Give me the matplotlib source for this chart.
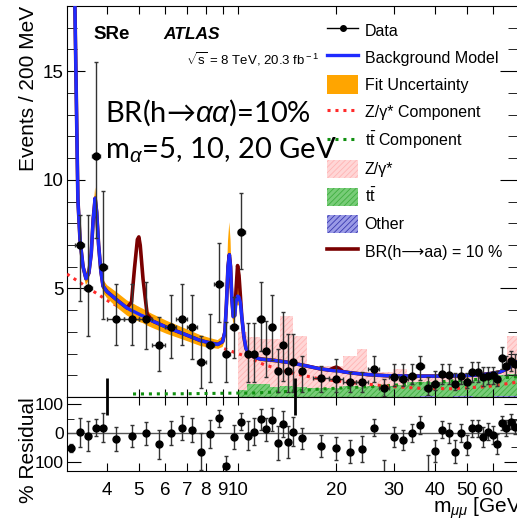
import matplotlib
matplotlib.use('Agg')
import numpy as np
import matplotlib.pyplot as plt
from matplotlib.lines import Line2D
from matplotlib.patches import Patch

plt.rcParams['font.family'] = ['Liberation Sans', 'DejaVu Sans']
plt.rcParams['mathtext.fontset'] = 'custom'
plt.rcParams['mathtext.rm'] = 'Liberation Sans'
plt.rcParams['mathtext.it'] = 'Liberation Sans:italic'
plt.rcParams['mathtext.bf'] = 'Liberation Sans:bold'
plt.rcParams['hatch.linewidth'] = 0.6

# ---- data points (m_mumu in GeV, events / 200 MeV) ----
data_x = [3.3, 3.5, 3.7, 3.9,
          4.25, 4.75, 5.25, 5.75, 6.25, 6.75, 7.25, 7.75, 8.25, 8.75, 9.25, 9.75,
          10.25, 10.75, 11.25, 11.75, 12.25, 12.75, 13.25, 13.75, 14.25, 14.75, 15.75,
          18, 20, 22, 24, 26, 28, 30, 32, 34, 36, 38, 40, 42, 44, 46, 48, 50,
          52, 54, 56, 58, 60, 62, 64, 66, 68, 70]
data_w = [0.2, 0.2, 0.2, 0.2,
          0.5, 0.5, 0.5, 0.5, 0.5, 0.5, 0.5, 0.5, 0.5, 0.5, 0.5, 0.5,
          0.5, 0.5, 0.5, 0.5, 0.5, 0.5, 0.5, 0.5, 0.5, 0.5, 0.5,
          2, 2, 2, 2, 2, 2, 2, 2, 2, 2, 2, 2, 2, 2, 2, 2, 2,
          2, 2, 2, 2, 2, 2, 2, 2, 2, 2]
data_y = [7.0, 5.0, 11.1, 6.0,
          3.6, 3.6, 3.6, 2.4, 3.2, 3.6, 3.2, 1.6, 2.4, 5.2, 2.0, 3.2,
          7.6, 2.0, 2.0, 3.6, 2.1, 3.2, 1.2, 2.4, 1.2, 1.6, 1.2,
          0.87, 0.83, 0.69, 0.69, 1.29, 0.41, 0.92, 0.83, 0.97, 1.43, 0.41, 0.60, 1.06,
          1.01, 0.60, 0.97, 0.69, 1.15, 1.15, 0.90, 0.97, 1.01, 0.83, 1.79, 1.43, 1.66, 1.5]
data_lo = [4.4, 2.8, 7.3, 3.6,
           2.4, 2.4, 2.2, 1.2, 1.8, 2.4, 1.75, 0.4, 0.7, 3.45, 0.7, 1.8,
           5.9, 0.7, 0.7, 2.1, 0.9, 1.7, 0.23, 0.74, 0.23, 0.23, 0.23,
           0.23, 0.23, 0.23, 0.23, 0.69, 0.05, 0.5, 0.5, 0.6, 0.8, 0.1, 0.3, 0.6,
           0.6, 0.3, 0.6, 0.4, 0.7, 0.7, 0.5, 0.6, 0.6, 0.5, 1.3, 1.0, 1.2, 1.0]
data_hi = [8.4, 8.4, 15.4, 9.5,
           5.2, 5.2, 5.3, 3.7, 4.7, 5.2, 4.7, 2.8, 3.8, 7.1, 3.45, 4.6,
           9.4, 3.4, 3.4, 5.3, 3.5, 4.7, 2.2, 3.9, 2.9, 2.9, 1.9,
           1.43, 1.75, 1.15, 1.15, 1.89, 0.83, 1.5, 1.5, 1.5, 1.9, 0.9, 1.2, 1.5,
           1.5, 1.1, 1.4, 1.1, 1.6, 1.6, 1.4, 1.4, 1.4, 1.2, 2.3, 1.9, 2.1, 2.0]

# ---- residual panel (%), first bin only visible here ----
res_x = [3.1] + data_x
res_y = [-52,
         2, -10, 19, 19,
         -22, -10, -1, -40, 1, 17, 11, -65, -3, 51, -116, -15,
         40, -9, 5, 48, 13, 46, -35, 32, -31, 5, -19,
         -46, -54, -66, -57, 19, -160, -13, -25, 1, 28, -160, -63, 11,
         1, -66, 1, -42, 16, 16, -15, 5, -7, -39, 34, 16, 40, 22]
res_err = [15,
           50, 52, 30, 50,
           42, 39, 40, 52, 42, 43, 43, 64, 50, 30, 35, 42,
           29, 50, 48, 36, 40, 40, 60, 45, 55, 50, 37,
           39, 40, 40, 45, 30, 65, 35, 35, 32, 30, 83, 40, 30,
           35, 40, 32, 35, 30, 30, 35, 30, 30, 35, 25, 28, 25, 25]
# residual bars that run off the top of the panel
off_x = [4.0, 15.0]
off_lo = [63, 63]
off_hi = [193, 193]

# ---- fitted model curves ----
curve_x = [3.12, 3.19, 3.26, 3.31, 3.38, 3.45, 3.52, 3.58, 3.63, 3.68, 3.72, 3.77,
           3.83, 3.89, 4.0, 4.3, 4.6, 4.75, 4.85, 4.95, 5.0, 5.05, 5.15, 5.3, 5.5,
           6.1, 7.0, 7.7, 8.3, 8.7, 9.0, 9.15, 9.25, 9.35, 9.44, 9.52, 9.6, 9.7,
           9.8, 9.9, 10.0, 10.1, 10.2, 10.3, 10.45, 10.6, 10.8, 11.2, 11.7, 13,
           14.2, 16, 17.8, 19, 19.6, 20, 20.4, 21, 22.5, 25, 28.5, 32, 36, 40,
           45, 52, 58, 63, 67, 71.6]
bkg_y = [30, 18.3, 9.1, 7.2, 6.0, 5.45, 5.7, 6.6, 8.2, 9.15, 8.5, 7.0,
         5.8, 5.1, 4.85, 4.45, 4.1, 3.98, 3.92, 3.85, 3.82, 3.78, 3.73, 3.62, 3.5,
         3.2, 2.85, 2.6, 2.48, 2.42, 2.55, 3.0, 4.3, 6.0, 6.55, 6.0, 4.6, 3.7,
         3.75, 4.4, 4.65, 4.6, 4.35, 3.7, 2.8, 2.25, 2.0, 1.85, 1.75, 1.68,
         1.6, 1.45, 1.3, 1.24, 1.21, 1.2, 1.19, 1.16, 1.1, 1.03, 0.98, 0.97, 0.96, 0.96,
         0.97, 1.0, 1.06, 1.15, 1.32, 1.65]
fit_unc = [0.5, 0.5, 0.4, 0.35, 0.3, 0.3, 0.3, 0.35, 0.4, 0.5, 0.45, 0.35,
           0.3, 0.3, 0.3, 0.35, 0.35, 0.35, 0.35, 0.34, 0.34, 0.34, 0.33, 0.33, 0.32,
           0.3, 0.27, 0.25, 0.22, 0.2, 0.25, 0.4, 0.8, 1.2, 1.5, 1.2, 0.7, 0.3,
           0.3, 0.35, 0.4, 0.4, 0.35, 0.3, 0.2, 0.15, 0.12, 0.1, 0.1, 0.09,
           0.08, 0.08, 0.08, 0.08, 0.08, 0.08, 0.08, 0.08, 0.08, 0.08, 0.08, 0.08, 0.08, 0.08,
           0.08, 0.08, 0.08, 0.09, 0.1, 0.12]
signal_y = [0, 0, 0, 0, 0, 0, 0, 0, 0, 0, 0, 0,
            0, 0, 0, 0, 0, 0.4, 2.0, 3.4, 3.55, 3.2, 1.7, 0.2, 0,
            0, 0, 0, 0, 0, 0, 0, 0, 0, 0, 0, 0, 0,
            0, 0.6, 1.4, 1.0, 0.3, 0, 0, 0, 0, 0, 0, 0,
            0, 0, 0, 0, 0.12, 0.18, 0.12, 0, 0, 0, 0, 0, 0, 0,
            0, 0, 0, 0, 0, 0]

zg_x = [3.02, 4.08, 5.0, 6.1, 7.7, 9.0, 10.7, 12.0, 14.2, 17.8, 22.5, 28.6, 36, 45, 57.6, 69, 71.6]
zg_y = [5.66, 4.37, 3.7, 3.15, 2.6, 2.25, 1.85, 1.5, 1.15, 0.83, 0.66, 0.5, 0.4, 0.38, 0.48, 0.65, 0.7]
tt_x = [4.8, 7.0, 10.0, 11.0, 14.0, 18.0, 28.0, 45.0, 69.0, 71.6]
tt_y = [0.14, 0.15, 0.18, 0.18, 0.25, 0.37, 0.51, 0.74, 0.92, 0.95]

# ---- stacked MC histograms ----
mc_edges = [10.0, 10.7, 11.7, 12.6, 13.5, 14.8, 16.3, 21.0, 23.1, 24.8, 29.8,
            32.9, 36.0, 40.4, 45.4, 52.2, 60.1, 66.3, 71.6]
other_h = [0.0, 0.0, 0.0, 0.0, 0.0, 0.02, 0.0, 0.0, 0.0, 0.02, 0.0,
           0.0, 0.03, 0.0, 0.03, 0.0, 0.04, 0.05]
ttbar_h = [0.3, 0.6, 0.6, 0.45, 0.5, 0.45, 0.4, 0.5, 0.45, 0.5, 0.55,
           0.7, 0.65, 0.7, 0.7, 0.8, 0.95, 1.0]
zgam_h = [2.7, 2.16, 2.07, 2.22, 3.22, 2.33, 1.03, 1.39, 1.75, 0.63, 0.74,
          0.27, 0.24, 0.36, 0.24, 0.26, 0.16, 1.75]

BLUE = '#1f2bff'
ORANGE = '#ffa500'
BROWN = '#7a0000'
PINK_FC, PINK_EC = '#ffd6d6', '#ffb4b4'
GREEN_FC, GREEN_EC = '#78cc78', '#3fae3f'
OTH_FC, OTH_EC = '#9a9ae6', '#3a3ab0'

W, H = 517, 520
fig = plt.figure(figsize=(W / 100, H / 100), dpi=100)
ax = fig.add_axes([67 / W, 1 - 397 / H, 451 / W, 391 / H])
axr = fig.add_axes([67 / W, 1 - 471 / H, 451 / W, 74 / H], sharex=ax)

# stacked histograms
left = np.array(mc_edges[:-1])
width = np.diff(mc_edges)
oth = np.array(other_h)
ttb = np.array(ttbar_h)
ax.bar(left, oth, width, align='edge', color=OTH_FC, edgecolor=OTH_EC, hatch='//////', lw=0)
ax.bar(left, ttb, width, bottom=oth, align='edge', color=GREEN_FC, edgecolor=GREEN_EC, hatch='//////', lw=0)
ax.bar(left, zgam_h, width, bottom=oth + ttb, align='edge', color=PINK_FC, edgecolor=PINK_EC, hatch='//////', lw=0)

# model components
bkg = np.array(bkg_y)
unc = np.array(fit_unc)
ax.plot(tt_x, tt_y, color='#109010', lw=2.2, ls=(0, (1, 1.6)), zorder=3)
ax.plot(zg_x, zg_y, color='#ff2a2a', lw=2.2, ls=(0, (1, 1.6)), zorder=3)
ax.fill_between(curve_x, bkg - unc, bkg + unc, color=ORANGE, lw=0, zorder=4)
ax.plot(curve_x, bkg + np.array(signal_y), color=BROWN, lw=2.6, zorder=5)
ax.plot(curve_x, bkg, color=BLUE, lw=2.4, zorder=6)

# data
dy = np.array(data_y)
ax.errorbar(data_x, dy, xerr=np.array(data_w) / 2,
            yerr=[dy - np.array(data_lo), np.array(data_hi) - dy],
            fmt='o', color='black', ecolor='#333333', ms=5, elinewidth=1,
            capsize=1.5, capthick=1, zorder=8)

ax.set_xscale('log')
ax.set_xlim(3.02, 71.6)
ax.set_ylim(0, 18)
ax.set_yticks([5, 10, 15])
ax.set_yticks(np.arange(1, 18), minor=True)
ax.tick_params(axis='y', which='both', direction='in', right=True, labelsize=13.5, pad=2.5)
ax.tick_params(axis='y', which='major', length=13)
ax.tick_params(axis='y', which='minor', length=7)
ax.tick_params(axis='x', which='both', direction='in', top=True, labelbottom=False, length=6)
ax.set_ylabel('Events / 200 MeV', fontsize=15, loc='top')
ax.yaxis.set_label_coords(-29 / 451, 1.0)

# residual panel
axr.axhline(0, color='#555555', lw=1)
ry = np.array(res_y)
axr.errorbar(res_x, ry, yerr=res_err, fmt='o', color='black', ecolor='#333333',
             ms=5, elinewidth=1, capsize=1.5, capthick=1, zorder=5)
axr.vlines(off_x, off_lo, off_hi, color='black', lw=2, clip_on=False, zorder=9)
axr.set_ylim(-133, 126)
axr.set_yticks([-100, 0, 100])
axr.set_yticklabels(['100', '0', '100'])
axr.set_yticks([-50, 50], minor=True)
axr.tick_params(axis='y', which='both', direction='in', right=True, labelsize=12.5, pad=2.5)
axr.tick_params(axis='y', which='major', length=10)
axr.tick_params(axis='y', which='minor', length=5)
xt = [4, 5, 6, 7, 8, 9, 10, 20, 30, 40, 50, 60]
axr.set_xticks(xt)
axr.set_xticklabels([str(v) for v in xt])
axr.set_xticks([], minor=True)
axr.tick_params(axis='x', which='both', direction='in', top=True, labelsize=13.5, pad=8, length=6)
axr.set_ylabel('% Residual', fontsize=15, loc='top')
axr.yaxis.set_label_coords(-29 / 451, 1.0)
fig.text(433 / W, 1 - 513 / H, r'm$_{\mu\mu}$ [GeV]', fontsize=15, ha='left', va='baseline')

# labels
fig.text(93 / W, 1 - 39 / H, 'SRe', fontsize=13.5, fontweight='bold', va='baseline')
fig.text(163 / W, 1 - 39 / H, 'ATLAS', fontsize=12.5, fontweight='bold', style='italic', va='baseline')
fig.text(186 / W, 1 - 64 / H, r'$\sqrt{\rm s}$ = 8 TeV, 20.3 fb$^{\rm -1}$', fontsize=9.5, va='baseline')
fig.text(105 / W, 1 - 122 / H, r'BR(h→$\alpha\alpha$)=10%', fontsize=21,
         family=['Lato', 'DejaVu Sans'], va='baseline', zorder=20)
fig.text(105 / W, 1 - 158 / H, r'm$_\alpha$=5, 10, 20 GeV', fontsize=21,
         family=['Lato', 'DejaVu Sans'], va='baseline', zorder=20)

handles = [
    Line2D([], [], color='black', marker='o', ms=4, lw=1),
    Line2D([], [], color=BLUE, lw=2.4),
    Patch(facecolor=ORANGE),
    Line2D([], [], color='#ff2a2a', lw=2.2, ls=(0, (1, 1.6))),
    Line2D([], [], color='#109010', lw=2.2, ls=(0, (1, 1.6))),
    Patch(facecolor=PINK_FC, edgecolor=PINK_EC, hatch='//////', lw=0),
    Patch(facecolor=GREEN_FC, edgecolor=GREEN_EC, hatch='//////', lw=0),
    Patch(facecolor=OTH_FC, edgecolor=OTH_EC, hatch='//////', lw=0),
    Line2D([], [], color=BROWN, lw=2.6),
]
labels = ['Data', 'Background Model', 'Fit Uncertainty', r'Z/γ* Component',
          r't$\bar{\rm t}$ Component', 'Z/γ*', r't$\bar{\rm t}$', 'Other',
          'BR(h⟶aa) = 10 %']
ax.legend(handles, labels, loc='upper left', bbox_to_anchor=(327 / W, 1 - 21 / H),
          bbox_transform=fig.transFigure, frameon=False, fontsize=11.5,
          handlelength=1.95, handleheight=1.4, labelspacing=0.55,
          handletextpad=0.4, borderpad=0, borderaxespad=0)

fig.savefig('out.png', dpi=100)
